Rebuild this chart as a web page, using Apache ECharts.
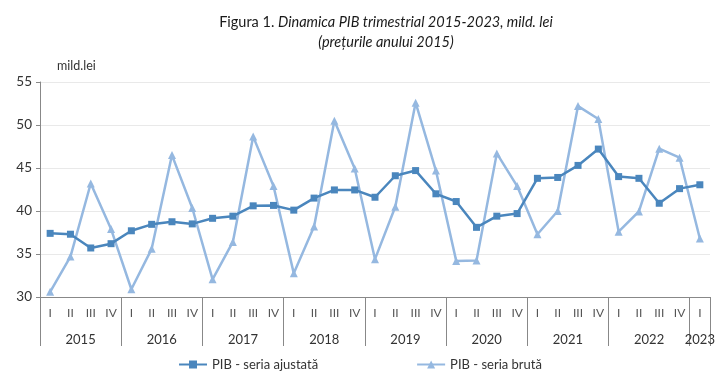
<!DOCTYPE html>
<html><head><meta charset="utf-8">
<script src="https://cdn.jsdelivr.net/npm/echarts@6/dist/echarts.min.js"></script>
<style>html,body{margin:0;padding:0;background:#fff}#c{width:720px;height:384px}</style>
</head><body><div id="c"></div>
<script>
var years = ['2015','2016','2017','2018','2019','2020','2021','2022','2023'];
var quarterNames = ['I','II','III','IV'];
var quarterCount = 33;
var seriaAjustata = [37.4,37.3,35.7,36.2, 37.7,38.45,38.75,38.5, 39.15,39.4,40.6,40.65, 40.1,41.5,42.45,42.45, 41.6,44.1,44.7,42.0, 41.1,38.1,39.4,39.7, 43.8,43.9,45.3,47.2, 44.0,43.8,40.9,42.6, 43.05];
var seriaBruta = [30.6,34.7,43.2,37.9, 30.9,35.6,46.5,40.35, 32.05,36.4,48.65,42.9, 32.75,38.2,50.5,44.95, 34.4,40.5,52.6,44.7, 34.2,34.25,46.7,42.9, 37.3,40.0,52.2,50.7, 37.6,39.95,47.25,46.2, 36.8];
var yTicks = {min:30, max:55, interval:5};

var quarterLabels = [];
for (var i = 0; i < quarterCount; i++) quarterLabels.push(quarterNames[i % 4]);
var yearAxisData = [];
for (var j = 0; j <= 2 * quarterCount; j++) {
  var lbl = '';
  if (j % 8 === 4) lbl = years[(j - 4) / 8];
  if (j === 2 * quarterCount - 1) lbl = years[years.length - 1];
  yearAxisData.push(lbl);
}
var FONT = 'Lato';
var chart = echarts.init(document.getElementById('c'));
chart.setOption({
  animation: false,
  textStyle: {fontFamily: FONT},
  title: [{
    text: '{n|Figura 1. }{i|Dinamica PIB trimestrial 2015-2023, mild. lei}\n{i|(prețurile anului 2015)}',
    left: 381, top: 7, textAlign: 'center',
    textStyle: {fontWeight: 'normal', rich: {
      n: {fontFamily: FONT, fontSize: 14.5, fontWeight: 'normal', color: '#1a1a1a', lineHeight: 20},
      i: {fontFamily: FONT, fontSize: 14.5, fontWeight: 'normal', fontStyle: 'italic', color: '#1a1a1a', lineHeight: 20}
    }}
  }, {
    text: 'mild.lei', left: 52, top: 54,
    textStyle: {fontFamily: FONT, fontSize: 12.5, fontWeight: 'normal', color: '#333'}
  }],
  legend: {
    bottom: 8, left: 'center', itemGap: 98, itemWidth: 28, itemHeight: 10,
    textStyle: {fontFamily: FONT, fontSize: 13, color: '#333'},
    data: ['PIB - seria ajustată', 'PIB - seria brută']
  },
  grid: {left: 40, right: 10, top: 82, bottom: 87},
  xAxis: [{
    type: 'category', data: quarterLabels, boundaryGap: true,
    axisLine: {lineStyle: {color: '#888', width: 1}},
    axisTick: {interval: 0, length: 25, lineStyle: {color: '#888'}},
    axisLabel: {interval: 0, margin: 10, fontSize: 12, color: '#555', fontFamily: FONT}
  }, {
    type: 'category', data: yearAxisData, boundaryGap: false, position: 'bottom',
    axisLine: {show: false},
    axisTick: {length: 49, lineStyle: {color: '#888'},
      interval: function (idx) { return idx % 8 === 0 || idx === 2 * quarterCount; }},
    axisLabel: {interval: 0, margin: 36, fontSize: 13, color: '#333', fontFamily: FONT}
  }],
  yAxis: {
    type: 'value', min: yTicks.min, max: yTicks.max, interval: yTicks.interval,
    axisLine: {show: true, lineStyle: {color: '#888'}},
    axisTick: {show: true, length: 4, lineStyle: {color: '#888'}},
    axisLabel: {fontSize: 13.5, color: '#333', margin: 8, fontFamily: FONT},
    splitLine: {lineStyle: {color: '#e9e9e9', width: 1}}
  },
  series: [{
    name: 'PIB - seria ajustată', type: 'line', xAxisIndex: 0, data: seriaAjustata,
    symbol: 'rect', symbolSize: 7, z: 3,
    lineStyle: {color: '#4a86bd', width: 2.5},
    itemStyle: {color: '#4a86bd'}
  }, {
    name: 'PIB - seria brută', type: 'line', xAxisIndex: 0, data: seriaBruta,
    symbol: 'triangle', symbolSize: 8, z: 2,
    lineStyle: {color: '#95b8e0', width: 2.5},
    itemStyle: {color: '#95b8e0'}
  }]
});
</script></body></html>
